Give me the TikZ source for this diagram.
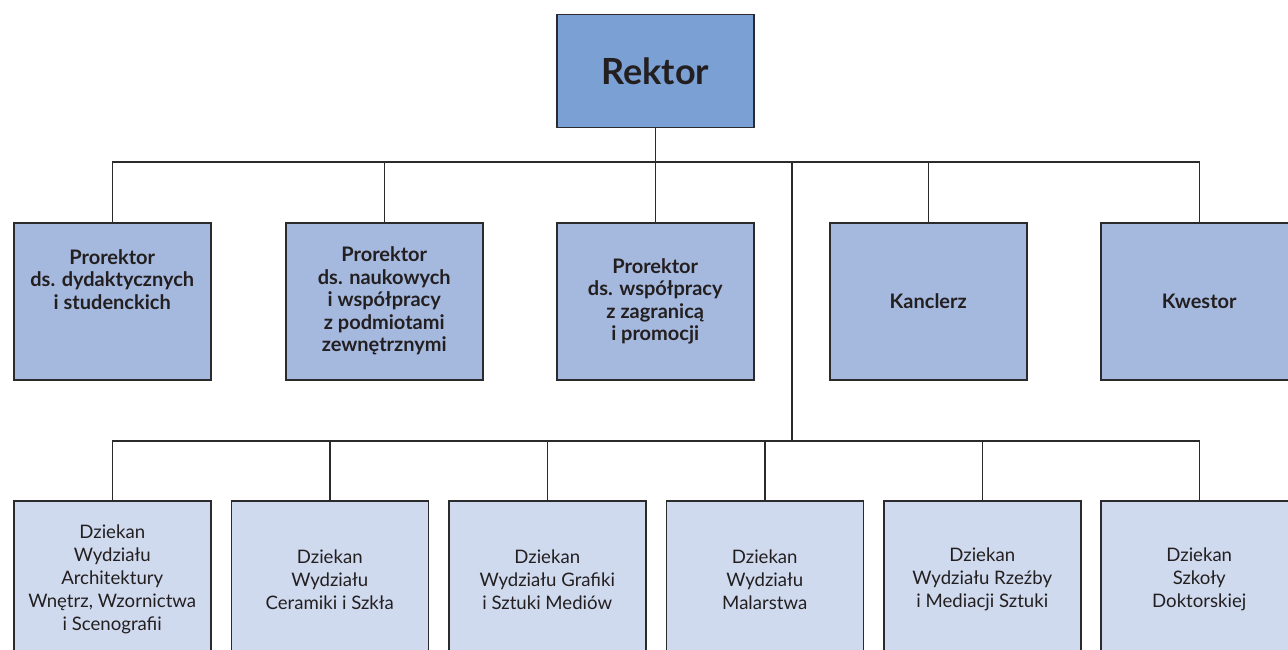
\documentclass[tikz,border=0pt]{standalone}
\usepackage{fontspec}
\setmainfont{Lato}
\definecolor{linec}{HTML}{2B2A2C}
\definecolor{txtc}{HTML}{231F20}
\definecolor{fillA}{HTML}{7BA0D4}
\definecolor{fillB}{HTML}{A5B9DF}
\definecolor{fillC}{HTML}{CFDAEE}
\begin{document}
\begin{tikzpicture}[x=1pt,y=-1pt,
  box/.style={draw=linec, line width=1.5pt, minimum width=197pt, minimum height=157pt, inner sep=0pt, anchor=north west, text=txtc, align=center},
  bfont/.style={font=\fontsize{20}{22.5}\selectfont\bfseries},
  boxB/.style={box, fill=fillB, bfont},
  boxC/.style={box, fill=fillC, font=\fontsize{18.6}{23}\selectfont},
  lbl/.style={text=txtc, align=center, inner sep=0pt},
  conn/.style={draw=linec, line width=1.5pt}]
\useasboundingbox (0,0) rectangle (1288,650);
\clip (0,0) rectangle (1288,650);
\node[box, fill=fillA, minimum width=197pt, minimum height=113pt, font=\fontsize{36}{40}\selectfont\bfseries] (r) at (556,14) {Rektor};
% row 2
\node[boxB] (p1) at (13,222) {};
\node[lbl, bfont] (p1t) at ([yshift=22pt]p1.center) {Prorektor\\ds. dydaktycznych\\i studenckich};
\node[boxB] (p2) at (285,222) {Prorektor\\ds. naukowych\\i współpracy\\z podmiotami\\zewnętrznymi};
\node[boxB] (p3) at (556,222) {Prorektor\\ds. współpracy\\z zagranicą\\i promocji};
\node[boxB] (p4) at (829,222) {Kanclerz};
\node[boxB] (p5) at (1100,222) {Kwestor};
% row 3
\node[boxC] (d1) at (13,500) {Dziekan\\Wydziału\\Architektury\\Wnętrz, Wzornictwa\\i Scenografii};
\node[boxC] (d2) at (230.5,500) {Dziekan\\Wydziału\\Ceramiki i Szkła};
\node[boxC] (d3) at (448,500) {Dziekan\\Wydziału Grafiki\\i Sztuki Mediów};
\node[boxC] (d4) at (665.5,500) {Dziekan\\Wydziału\\Malarstwa};
\node[boxC] (d5) at (883,500) {Dziekan\\Wydziału Rzeźby\\i Mediacji Sztuki};
\node[boxC] (d6) at (1100,500) {Dziekan\\Szkoły\\Doktorskiej};
% connectors
\coordinate (h) at (654.5,162);
\coordinate (t) at (792,162);
\coordinate (b) at (792,441);
\draw[conn] (r.south) -- (r.south |- h);
\draw[conn] (p1.north) -- (p1.north |- h) -- (p5.north |- h) -- (p5.north);
\foreach \n in {p2,p3,p4} \draw[conn] (\n.north) -- (\n.north |- h);
\draw[conn] (t) -- (b);
\draw[conn] (d1.north) -- (d1.north |- b) -- (d6.north |- b) -- (d6.north);
\foreach \n in {d2,d3,d4,d5} \draw[conn] (\n.north) -- (\n.north |- b);
\end{tikzpicture}
\end{document}
